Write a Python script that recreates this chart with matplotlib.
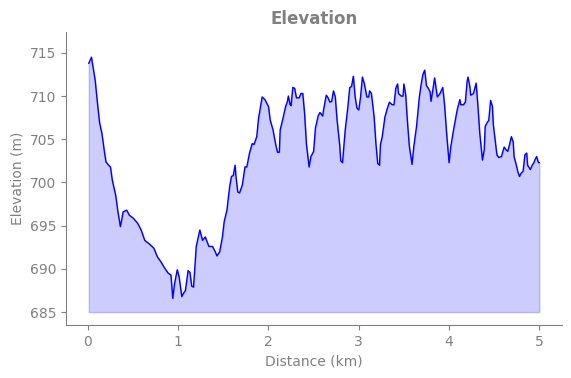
import matplotlib
matplotlib.use("Agg")
import matplotlib.pyplot as plt

# distance (km) and elevation (m)
distance_km = [
    0.01, 0.04, 0.05, 0.08, 0.11, 0.13, 0.155, 0.18, 0.20, 0.23, 0.25, 0.27,
    0.31, 0.33, 0.36, 0.375, 0.39, 0.43, 0.46, 0.50, 0.55, 0.59, 0.63, 0.68,
    0.73, 0.77, 0.81, 0.85, 0.89, 0.92, 0.94, 0.96, 0.99, 1.01, 1.04, 1.06,
    1.08, 1.11, 1.13, 1.15, 1.17, 1.20, 1.24, 1.27, 1.30, 1.34, 1.38, 1.41,
    1.43, 1.46, 1.49, 1.51, 1.54, 1.57, 1.59, 1.61, 1.63, 1.64, 1.66, 1.68,
    1.71, 1.74, 1.76, 1.79, 1.82, 1.84, 1.87, 1.89, 1.93, 1.96, 1.98, 2.00,
    2.02, 2.05, 2.08, 2.10, 2.12, 2.13, 2.16, 2.19, 2.21, 2.22, 2.24, 2.25,
    2.27, 2.29, 2.31, 2.34, 2.36, 2.38, 2.40, 2.42, 2.45, 2.47, 2.50, 2.52,
    2.55, 2.57, 2.60, 2.61, 2.64, 2.66, 2.68, 2.70, 2.72, 2.74, 2.76, 2.79,
    2.80, 2.82, 2.84, 2.85, 2.88, 2.90, 2.92, 2.94, 2.96, 2.98, 3.00, 3.02,
    3.04, 3.06, 3.09, 3.11, 3.12, 3.14, 3.17, 3.19, 3.21, 3.23, 3.24, 3.26,
    3.29, 3.32, 3.34, 3.37, 3.39, 3.41, 3.43, 3.44, 3.47, 3.49, 3.50, 3.52,
    3.54, 3.56, 3.59, 3.61, 3.64, 3.67, 3.69, 3.71, 3.73, 3.75, 3.77, 3.79,
    3.80, 3.82, 3.84, 3.87, 3.90, 3.93, 3.95, 3.97, 4.00, 4.02, 4.05, 4.09,
    4.12, 4.13, 4.16, 4.18, 4.20, 4.21, 4.23, 4.24, 4.27, 4.30, 4.32, 4.34,
    4.37, 4.39, 4.40, 4.42, 4.44, 4.46, 4.48, 4.49, 4.51, 4.53, 4.55, 4.58,
    4.61, 4.63, 4.65, 4.67, 4.69, 4.71, 4.72, 4.75, 4.76, 4.78, 4.80, 4.82,
    4.84, 4.86, 4.87, 4.90, 4.92, 4.94, 4.95, 4.97, 4.99, 5.00,
]
elevation_m = [
    713.8, 714.5, 713.8, 711.9, 708.8, 706.9, 705.7, 703.8, 702.4, 702.0, 701.8, 700.3,
    698.4, 696.8, 694.9, 695.7, 696.6, 696.8, 696.2, 695.9, 695.3, 694.5, 693.3, 692.9,
    692.4, 691.4, 690.8, 690.1, 689.5, 689.3, 686.6, 688.3, 689.9, 689.1, 686.8, 687.2,
    687.5, 689.8, 689.6, 688.0, 687.9, 692.6, 694.5, 693.3, 693.7, 692.6, 692.6, 692.0,
    691.5, 692.0, 693.7, 695.5, 696.8, 699.5, 700.7, 700.8, 702.0, 700.7, 698.9, 698.8,
    699.7, 701.8, 701.8, 703.4, 704.5, 704.4, 705.3, 707.4, 709.9, 709.6, 709.2, 708.8,
    707.2, 706.1, 704.4, 703.5, 703.5, 706.1, 707.4, 708.8, 709.4, 710.0, 709.0, 708.9,
    711.0, 710.9, 709.8, 709.8, 710.3, 710.3, 708.0, 704.5, 701.8, 703.0, 703.6, 706.3,
    707.7, 708.1, 707.7, 708.4, 710.1, 709.8, 709.3, 709.4, 710.6, 709.9, 707.2, 704.2,
    702.5, 702.3, 704.9, 706.1, 708.8, 711.0, 711.1, 712.3, 709.9, 708.6, 708.4, 709.9,
    712.2, 711.5, 709.9, 709.9, 710.6, 710.3, 707.6, 704.5, 702.2, 702.0, 704.4, 705.3,
    707.6, 708.7, 709.3, 709.0, 709.0, 710.9, 711.4, 710.3, 710.0, 710.0, 711.4, 710.1,
    706.9, 704.2, 702.1, 704.2, 706.5, 709.8, 711.3, 712.5, 713.0, 711.2, 710.9, 710.5,
    709.4, 710.7, 712.1, 709.9, 710.3, 711.0, 709.0, 706.1, 702.3, 704.2, 706.1, 708.4,
    709.6, 709.0, 709.0, 709.3, 711.7, 712.2, 711.1, 710.1, 710.3, 711.5, 708.8, 705.7,
    702.6, 703.8, 706.5, 706.9, 707.2, 709.5, 708.8, 706.7, 704.9, 703.2, 702.9, 703.0,
    704.1, 703.8, 703.6, 704.4, 705.3, 704.7, 703.0, 701.8, 701.3, 700.7, 701.1, 701.3,
    703.2, 703.4, 702.0, 701.5, 702.0, 702.3, 702.6, 703.0, 702.3, 702.3,
]
base_elevation = 685

gray = "#808080"

fig, ax = plt.subplots(figsize=(5.71, 3.78), dpi=100)
fig.subplots_adjust(left=0.116, right=0.984, bottom=0.14, top=0.915)

ax.fill_between(distance_km, elevation_m, base_elevation,
                facecolor="blue", edgecolor="blue", alpha=0.2, linewidth=1)
ax.plot(distance_km, elevation_m, color="blue", linewidth=1)

ax.set_ylim(683.5, 717.4)
ax.set_yticks([685, 690, 695, 700, 705, 710, 715])
ax.set_xticks([0, 1, 2, 3, 4, 5])

ax.set_title("Elevation", color=gray, fontweight="bold", fontsize=12)
ax.set_xlabel("Distance (km)", color=gray)
ax.set_ylabel("Elevation (m)", color=gray)

ax.spines["top"].set_visible(False)
ax.spines["right"].set_visible(False)
ax.spines["left"].set_color(gray)
ax.spines["bottom"].set_color(gray)
ax.tick_params(colors=gray)

plt.savefig("out.png", dpi=100)
